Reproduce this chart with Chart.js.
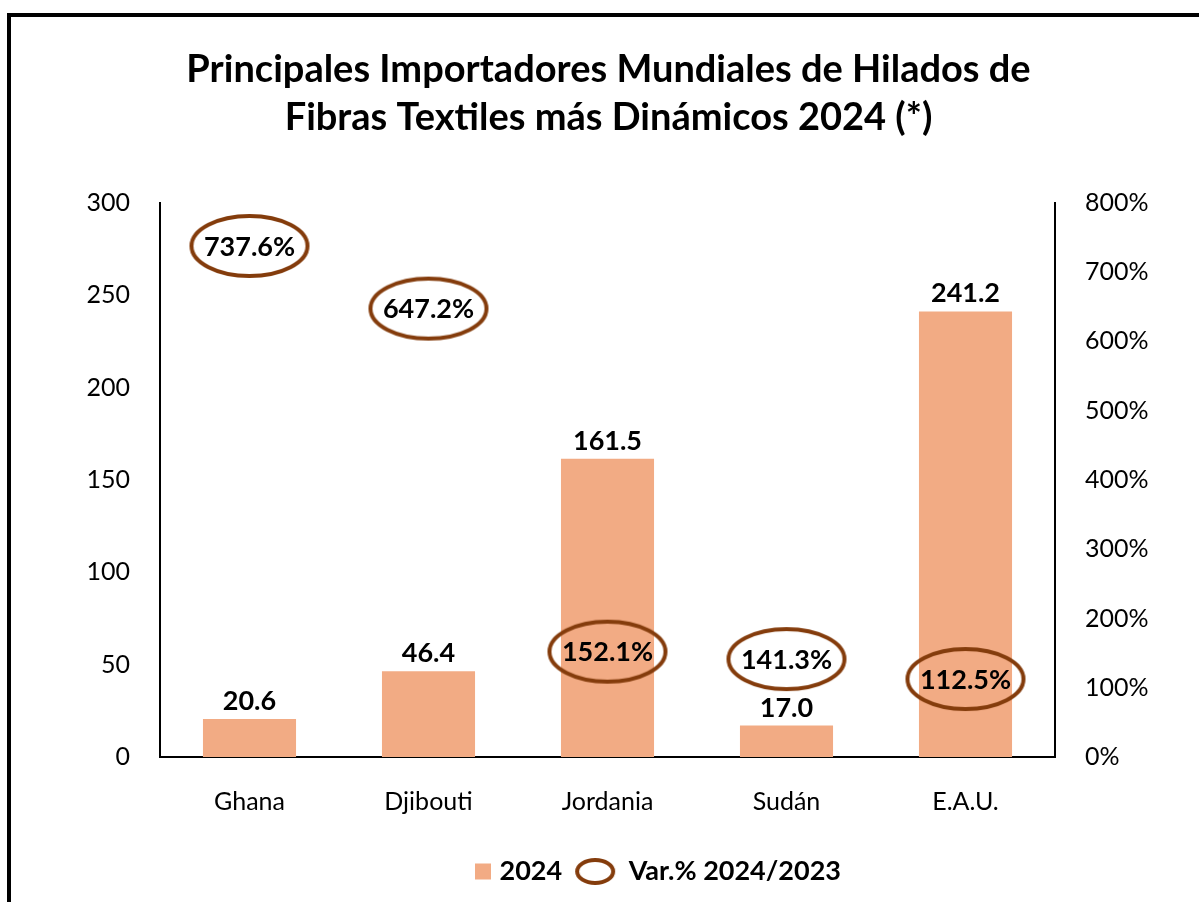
<!DOCTYPE html>
<html>
<head>
  <meta charset="utf-8">
  <script src="https://cdn.jsdelivr.net/npm/chart.js@4"></script>
  <style>
    body { margin: 0; background: #fff; }
  </style>
</head>
<body>
  <canvas id="myChart" width="1199" height="902"></canvas>
  <script>
    const paises = ['Ghana', 'Djibouti', 'Jordania', 'Sudán', 'E.A.U.'];
    const valores2024 = [20.6, 46.4, 161.5, 17.0, 241.2];
    const variacion = [737.6, 647.2, 152.1, 141.3, 112.5];

    const naranja = '#F2AB84';
    const marron = '#843C0C';
    const fuente = 'Lato, "Open Sans", sans-serif';

    // marcadores en forma de elipse (se usan como pointStyle)
    function elipse(w, h, lw, extra) {
      const c = document.createElement('canvas');
      c.width = w + (extra || 0); c.height = h;
      const g = c.getContext('2d');
      g.strokeStyle = marron;
      g.lineWidth = lw;
      g.beginPath();
      g.ellipse(w / 2, h / 2, w / 2 - lw / 2 - 1, h / 2 - lw / 2 - 1, 0, 0, 2 * Math.PI);
      g.stroke();
      return c;
    }
    // cuadro de leyenda, pegado a la derecha del lienzo
    function cuadro(s, ancho, h) {
      const c = document.createElement('canvas');
      c.width = ancho; c.height = h;
      const g = c.getContext('2d');
      g.fillStyle = naranja;
      g.fillRect(ancho - s - 6, (h - s) / 2, s, s);
      return c;
    }
    const elipseGrande = elipse(122, 66, 4);
    const elipseLeyenda = elipse(42, 29, 4, 10);
    const cuadroLeyenda = cuadro(16, 52, 29);

    const marco = {
      id: 'marco',
      beforeDraw(chart) {
        const ctx = chart.ctx;
        ctx.save();
        ctx.fillStyle = '#fff';
        ctx.fillRect(0, 0, chart.width, chart.height);
        ctx.strokeStyle = '#000';
        ctx.lineWidth = 4;
        ctx.strokeRect(9, 15, 1400, 1200);
        ctx.restore();
      },
      afterLayout(chart) {
        chart.legend.left += 40;
        chart.legend.right += 40;
      }
    };

    const etiquetas = {
      id: 'etiquetas',
      afterDatasetsDraw(chart) {
        const ctx = chart.ctx;
        ctx.save();
        ctx.fillStyle = '#000';
        ctx.textAlign = 'center';
        ctx.font = 'bold 27px ' + fuente;
        chart.data.datasets.forEach((ds, i) => {
          const meta = chart.getDatasetMeta(i);
          meta.data.forEach((el, j) => {
            const v = ds.data[j];
            if (ds.type === 'bar') {
              ctx.textBaseline = 'alphabetic';
              ctx.fillText(v.toFixed(1), el.x, el.y - 9);
            } else {
              ctx.textBaseline = 'middle';
              ctx.fillText(v.toFixed(1) + '%', el.x, el.y + 1);
            }
          });
        });
        ctx.restore();
      }
    };

    new Chart(document.getElementById('myChart').getContext('2d'), {
      data: {
        labels: paises,
        datasets: [{
          type: 'bar',
          label: '2024',
          data: valores2024,
          backgroundColor: naranja,
          yAxisID: 'y',
          order: 1,
          barPercentage: 1,
          categoryPercentage: 0.52,
        }, {
          type: 'line',
          label: 'Var.% 2024/2023',
          data: variacion,
          yAxisID: 'y1',
          showLine: false,
          pointStyle: elipseGrande,
          pointRadius: 30,
          order: 0,
        }],
      },
      options: {
        responsive: false,
        animation: false,
        devicePixelRatio: 1,
        layout: { padding: { left: 18, right: 0, top: 0, bottom: 7 } },
        plugins: {
          title: {
            display: true,
            text: ['Principales Importadores Mundiales de Hilados de', 'Fibras Textiles más Dinámicos 2024 (*)'],
            color: '#000',
            font: { family: fuente, size: 38, weight: 'bold', lineHeight: 1.26 },
            padding: { top: 46, bottom: 61 },
          },
          legend: {
            position: 'bottom',
            labels: {
              color: '#000',
              font: { family: fuente, size: 27, weight: 'bold' },
              usePointStyle: true,
              pointStyleWidth: 30,
              padding: 23,
              sort: (a, b) => a.datasetIndex - b.datasetIndex,
              generateLabels(chart) {
                const items = Chart.defaults.plugins.legend.labels.generateLabels(chart);
                items.forEach(it => {
                  it.pointStyle = it.datasetIndex === 0 ? cuadroLeyenda : elipseLeyenda;
                });
                return items;
              },
            },
          },
          tooltip: { enabled: false },
        },
        scales: {
          x: {
            grid: { display: false, drawTicks: false },
            border: { color: '#000', width: 2 },
            ticks: { color: '#000', font: { family: fuente, size: 25 }, padding: 30 },
            afterFit(s) { s.height = 78; },
          },
          y: {
            position: 'left',
            min: 0, max: 300,
            grid: { display: false, drawTicks: false },
            border: { color: '#000', width: 2 },
            ticks: { stepSize: 50, color: '#000', font: { family: fuente, size: 25 }, padding: 30 },
            afterFit(s) { s.width = 142; },
          },
          y1: {
            position: 'right',
            min: 0, max: 800,
            grid: { display: false, drawTicks: false },
            border: { color: '#000', width: 2 },
            ticks: { stepSize: 100, color: '#000', font: { family: fuente, size: 25 }, padding: 30,
              callback: v => v + '%' },
            afterFit(s) { s.width = 144; },
          },
        },
      },
      plugins: [marco, etiquetas],
    });
  </script>
</body>
</html>
